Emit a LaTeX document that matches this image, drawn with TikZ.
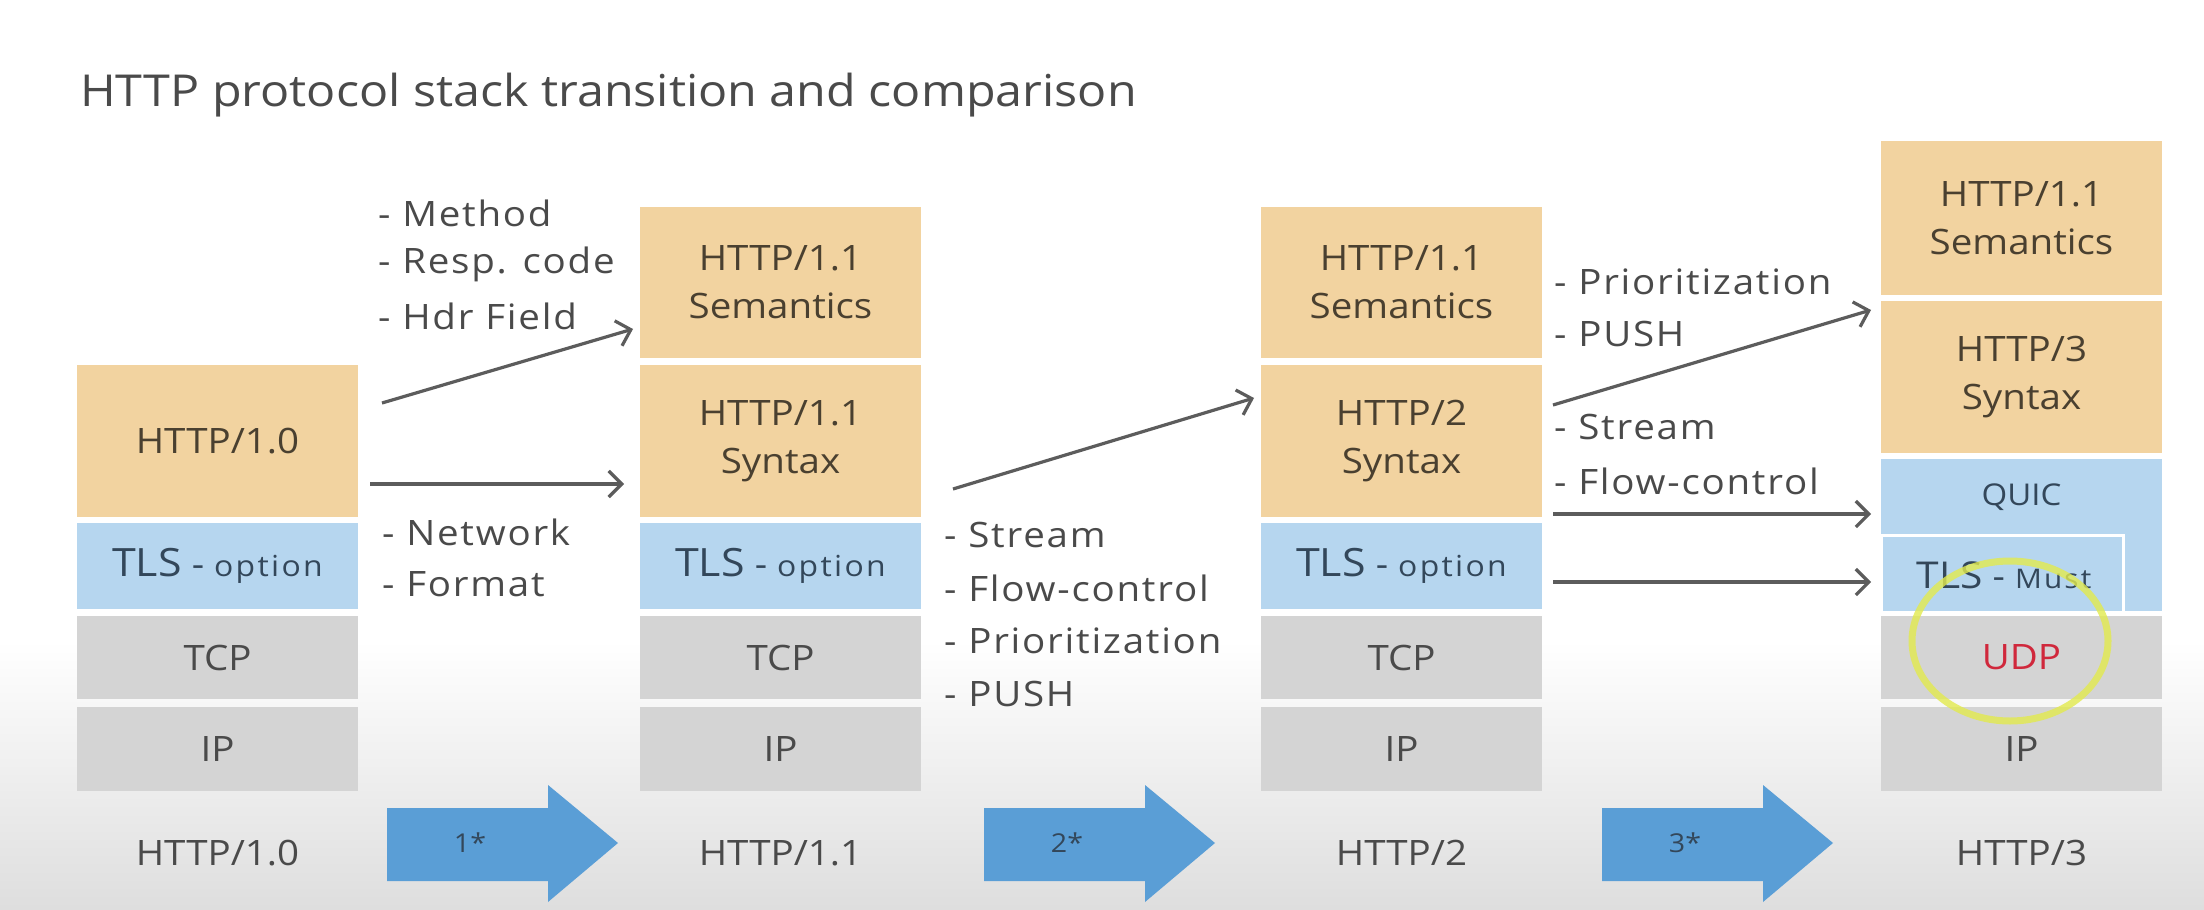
\documentclass[tikz,border=0pt]{standalone}
\usepackage{fontspec}
\setmainfont[FakeStretch=1.1]{Open Sans}
\newfontfamily\notefont[FakeStretch=1.1,LetterSpace=5]{Open Sans}
\newfontfamily\smallfont[FakeStretch=1.1,LetterSpace=8]{Open Sans}
\usetikzlibrary{arrows.meta}
\definecolor{orng}{HTML}{F2D3A0}
\definecolor{lblue}{HTML}{B6D6EF}
\definecolor{lgray}{HTML}{D4D4D4}
\definecolor{bigblue}{HTML}{5A9ED6}
\definecolor{ink}{HTML}{4A4A4A}
\definecolor{brink}{HTML}{4A4030}
\definecolor{blink}{HTML}{33475A}
\definecolor{udpred}{HTML}{D0283C}
\definecolor{hilite}{HTML}{E2EA4E}
\begin{document}
\begin{tikzpicture}[x=1pt,y=-1pt,
  layer/.style={rectangle, inner sep=0pt, minimum width=281pt, align=center,
    font=\fontsize{35}{48}\selectfont},
  http/.style={layer, fill=orng, text=brink},
  sec/.style={layer, fill=lblue, text=blink},
  net/.style={layer, fill=lgray, text=ink},
  lbl/.style={font=\fontsize{35}{40}\selectfont, text=ink},
  note/.style={anchor=west, inner sep=0pt, font=\notefont\fontsize{35}{40}\selectfont, text=ink},
  arr/.style={draw=ink!90, line width=3.2pt, -{Straight Barb[length=13pt,width=26pt,line width=3.2pt]}},
  blockarr/.style={fill=bigblue},
  num/.style={font=\fontsize{26}{30}\selectfont, text=blink}
]
\useasboundingbox (0,0) rectangle (2204,910);
\fill[white] (0,0) rectangle (2204,910);
\shade[top color=white, bottom color=black!13] (0,640) rectangle (2204,910);

% title
\node[anchor=west, inner sep=0pt, font=\fontsize{44}{50}\selectfont, text=ink] (title) at (80,95) {HTTP protocol stack transition and comparison};

\newcommand{\tlsopt}{{\fontsize{39}{44}\selectfont TLS} - {\smallfont\fontsize{29}{34}\selectfont option}}

% stack 1
\node[http, minimum height=152] (h10) at (217.5,441) {HTTP/1.0};
\node[sec, minimum height=86] (tls1) at (217.5,566) {\tlsopt};
\node[net, minimum height=83] (tcp1) at (217.5,657.5) {TCP};
\node[net, minimum height=84] (ip1) at (217.5,748.5) {IP};
\node[lbl] (l1) at (217.5,853) {HTTP/1.0};

% stack 2
\node[http, minimum height=151] (sem2) at (780.5,282.5) {HTTP/1.1\\Semantics};
\node[http, minimum height=152] (syn2) at (780.5,441) {HTTP/1.1\\Syntax};
\node[sec, minimum height=86] (tls2) at (780.5,566) {\tlsopt};
\node[net, minimum height=83] (tcp2) at (780.5,657.5) {TCP};
\node[net, minimum height=84] (ip2) at (780.5,748.5) {IP};
\node[lbl] (l2) at (780.5,853) {HTTP/1.1};

% stack 3
\node[http, minimum height=151] (sem3) at (1401.5,282.5) {HTTP/1.1\\Semantics};
\node[http, minimum height=152] (syn3) at (1401.5,441) {HTTP/2\\Syntax};
\node[sec, minimum height=86] (tls3) at (1401.5,566) {\tlsopt};
\node[net, minimum height=83] (tcp3) at (1401.5,657.5) {TCP};
\node[net, minimum height=84] (ip3) at (1401.5,748.5) {IP};
\node[lbl] (l3) at (1401.5,853) {HTTP/2};

% stack 4
\node[http, minimum height=154] (sem4) at (2021.5,218) {HTTP/1.1\\Semantics};
\node[http, minimum height=152] (syn4) at (2021.5,377) {HTTP/3\\Syntax};
\node[sec, minimum height=152, anchor=north] (quic) at (2021.5,459) {};
\node[font=\fontsize{30}{36}\selectfont, text=blink] (quict) at (2021.5,497) {QUIC};
\draw[white, line width=3pt, fill=lblue] (1881,611) -- (1881,535) -- (2123,535) -- (2123,611);
\node[text=blink, font=\fontsize{35}{40}\selectfont] (tls4) at (2004,575) {{\fontsize{37}{42}\selectfont TLS} - {\smallfont\fontsize{27}{32}\selectfont Must}};
\node[net, minimum height=83] (udp4) at (2021.5,657.5) {\textcolor{udpred}{UDP}};
\node[net, minimum height=84] (ip4) at (2021.5,748.5) {IP};
\node[lbl] (l4) at (2021.5,853) {HTTP/3};
\draw[hilite, opacity=0.8, line width=7pt] (2010,641) ellipse [x radius=98, y radius=80];

% notes 1
\node[note] (n1a) at (378,213) {- Method};
\node[note] (n1b) at (378,264) {- Resp. code};
\node[note] (n1c) at (378,316) {- Hdr Field};
\node[note] (n1d) at (382,532) {- Network};
\node[note] (n1e) at (382,584) {- Format};

% notes 2
\node[note] (n2a) at (944,535) {- Stream};
\node[note] (n2b) at (944,588) {- Flow-control};
\node[note] (n2c) at (944,641) {- Prioritization};
\node[note] (n2d) at (944,694) {- PUSH};

% notes 3
\node[note] (n3a) at (1554,282) {- Prioritization};
\node[note] (n3b) at (1554,334) {- PUSH};
\node[note] (n3c) at (1554,427) {- Stream};
\node[note] (n3d) at (1554,481) {- Flow-control};

% connectors
\coordinate (a1s) at (382,403);
\coordinate (a1e) at (633,329);
\coordinate (b1s) at (370,484);
\coordinate (b1e) at (624,484);
\coordinate (a2s) at (953,489);
\coordinate (a2e) at (1254,398);
\coordinate (a3s) at (1553,405);
\coordinate (a3e) at (1871,310);
\coordinate (b3s) at (1553,514);
\coordinate (b3e) at (1871,514);
\coordinate (c3s) at (1553,582);
\coordinate (c3e) at (1871,582);
\draw[arr] (a1s) -- (a1e);
\draw[arr] (b1s) -- (b1e);
\draw[arr] (a2s) -- (a2e);
\draw[arr] (a3s) -- (a3e);
\draw[arr] (b3s) -- (b3e);
\draw[arr] (c3s) -- (c3e);

% block arrows
\foreach \dx/\t/\nm in {0/1*/ba1, 597/2*/ba2, 1215/3*/ba3}{
  \begin{scope}[xshift=\dx pt]
  \fill[blockarr] (387,808) -- (548,808) -- (548,785) -- (618,843) -- (548,902) -- (548,881) -- (387,881) -- cycle;
  \node[num] (\nm) at (470,843) {\t};
  \end{scope}
}
\end{tikzpicture}
\end{document}
